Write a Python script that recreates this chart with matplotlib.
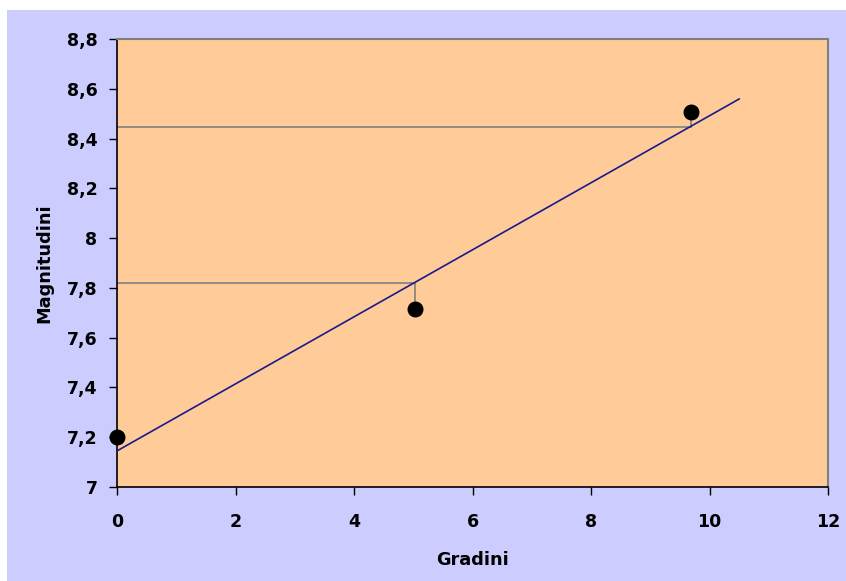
import matplotlib
matplotlib.use("Agg")
import matplotlib.pyplot as plt
from matplotlib.patches import Rectangle

# Data
gradini = [0.0, 5.03, 9.68]
magnitudini = [7.20, 7.715, 8.507]
fit_x = [0.0, 10.5]
fit_y = [7.145, 8.559]
ref_levels = [7.82, 8.446]   # horizontal reading lines
ref_x = [5.03, 9.68]
xticks = [0, 2, 4, 6, 8, 10, 12]
yticks = [7.0, 7.2, 7.4, 7.6, 7.8, 8.0, 8.2, 8.4, 8.6, 8.8]
ytick_labels = ["7", "7,2", "7,4", "7,6", "7,8", "8", "8,2", "8,4", "8,6", "8,8"]

plt.rcParams['font.family'] = ['DejaVu Sans']
plt.rcParams['font.weight'] = 'bold'

W, H = 846, 581
fig = plt.figure(figsize=(W/100, H/100), dpi=100, facecolor='white')
bg = Rectangle((7/W, 0), 1 - 7/W, 1 - 10/H, transform=fig.transFigure,
               facecolor='#CCCCFF', edgecolor='none', zorder=-10)
fig.add_artist(bg)

ax = fig.add_axes([117/W, 1 - 487/H, (828-117)/W, (487-39)/H])
ax.set_zorder(1)
ax.set_facecolor('#FFCC99')
ax.set_xlim(0, 12)
ax.set_ylim(7.0, 8.8)

for lvl, xr, yp in zip(ref_levels, ref_x, [magnitudini[1], magnitudini[2]]):
    ax.plot([0, xr], [lvl, lvl], color='#808080', lw=1.2, zorder=2)
    ax.plot([xr, xr], [lvl, yp], color='#808080', lw=1.2, zorder=2)

ax.plot(fit_x, fit_y, color='#1a1a8c', lw=1.2, zorder=3)
ax.scatter(gradini, magnitudini, s=110, color='black', zorder=4, clip_on=False)

ax.set_xticks(xticks)
ax.set_xticklabels([str(t) for t in xticks])
ax.set_yticks(yticks)
ax.set_yticklabels(ytick_labels)
ax.tick_params(axis='both', direction='out', length=6, width=1, colors='black',
               labelsize=12.5)
ax.tick_params(axis='x', pad=13)
ax.tick_params(axis='y', pad=8)

for s in ['top', 'right']:
    ax.spines[s].set_color('#808080')
    ax.spines[s].set_linewidth(1.5)
for s in ['left', 'bottom']:
    ax.spines[s].set_color('black')
    ax.spines[s].set_linewidth(1.2)

fig.text(472/W, 1 - 560/H, 'Gradini', ha='center', va='center', fontsize=12.8, fontweight='bold')
fig.text(44/W, 1 - 263/H, 'Magnitudini', ha='center', va='center', rotation=90,
         fontsize=12.8, fontweight='bold')

fig.savefig('out.png', dpi=100, facecolor='white')
